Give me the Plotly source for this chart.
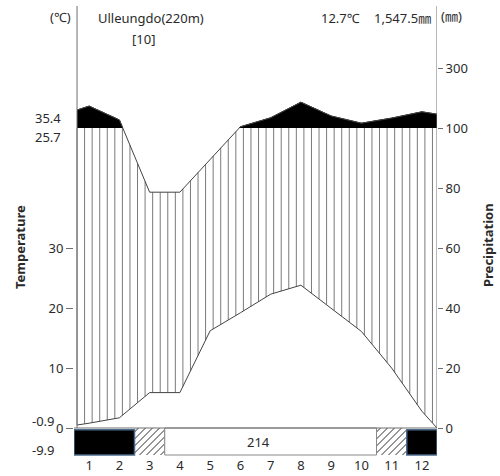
import numpy as np
import plotly.graph_objects as go

# ---------------- data ----------------
months = list(range(1, 13))
month_labels = [str(m) for m in months]
temp_c = [0.8, 1.7, 5.9, 5.9, 16.2, 19.2, 22.3, 23.8, 20.0, 16.1, 10.0, 2.8]
precip_mm = [173, 127, 78.6, 78.6, 89.6, 104, 134, 186, 140, 116, 133, 154]
temp_edges = [0.5, 0.0]        # curve values where it meets the left / right frame
precip_edges = [160, 146]
frost_state = ["frost", "frost", "partial", "free", "free", "free", "free",
               "free", "free", "free", "partial", "frost"]
frost_free_days = "214"
station = "Ulleungdo(220m)"
years = "[10]"
mean_temp = "12.7℃"
annual_precip = "1,547.5㎜"
temp_ticks = [0, 10, 20, 30]
precip_ticks = [0, 20, 40, 60, 80, 100, 300]
extreme_hi = ["35.4", "25.7"]
extreme_lo = ["-0.9", "-9.9"]

# ---------------- scales ----------------
def t_scale(t):
    return 2.0 * np.asarray(t, dtype=float)

def p_scale(p):
    p = np.asarray(p, dtype=float)
    return np.where(p <= 100, p, 100 + (p - 100) / 10.0)

X_L, X_R = 0.6, 12.5
Y_TOP = 422 / 3.0
Y_BOT = Y_TOP - 150
PX_X = 363 / 12.0    # pixels per month
PX_Y = 3.0           # pixels per y unit
cx = np.array([X_L] + months + [X_R], dtype=float)
ty = t_scale([temp_edges[0]] + temp_c + [temp_edges[1]])
py = p_scale([precip_edges[0]] + precip_mm + [precip_edges[1]])

AX = "#6e6e6e"
TXT = "#2a2a2a"
FONT = "Noto Sans, Noto Sans CJK KR, sans-serif"

fig = go.Figure()

# black area (precip above 100)
fig.add_trace(go.Scatter(x=cx, y=py, mode="lines", fill="tozeroy",
                         fillcolor="black", line=dict(color="black", width=1),
                         hoverinfo="skip", showlegend=False))
# white out everything below 100
fig.add_trace(go.Scatter(x=[X_L, X_R, X_R, X_L, X_L], y=[0, 0, 100, 100, 0],
                         mode="lines", fill="toself", fillcolor="white",
                         line=dict(width=0), hoverinfo="skip", showlegend=False))
# vertical hatching (humid period)
hx, hy = [], []
for x in np.arange(X_L, X_R - 0.1, 0.25):
    yt = float(np.interp(x, cx, ty))
    yp = min(float(np.interp(x, cx, py)), 100.0)
    hx += [x, x, None]
    hy += [yt, yp, None]
fig.add_trace(go.Scatter(x=hx, y=hy, mode="lines", line=dict(color="#7a7a7a", width=1),
                         hoverinfo="skip", showlegend=False))
# temperature curve
fig.add_trace(go.Scatter(x=cx, y=ty, mode="lines", line=dict(color="#444", width=1),
                         hoverinfo="skip", showlegend=False))
# precipitation curve (on the right axis, same range)
fig.add_trace(go.Scatter(x=cx, y=py, mode="lines", line=dict(color="#444", width=1),
                         yaxis="y2", hoverinfo="skip", showlegend=False))

# ---------------- frost bar ----------------
BAR_LO, BAR_HI = -9.0, 0.0
shapes = []
groups = []
for m, s in zip(months, frost_state):
    if groups and groups[-1][0] == s and groups[-1][2] == m - 1 and s != "partial":
        groups[-1][2] = m
    else:
        groups.append([s, m, m])
for s, m0, m1 in groups:
    x0, x1 = m0 - 0.5, m1 + 0.5
    if s == "frost":
        shapes.append(dict(type="rect", xref="x", yref="y", x0=x0, x1=x1, y0=BAR_LO, y1=-0.55,
                           fillcolor="black", line=dict(color="#4a6a8c", width=1.5)))
    elif s == "free":
        shapes.append(dict(type="rect", xref="x", yref="y", x0=x0, x1=x1, y0=BAR_LO, y1=BAR_HI,
                           fillcolor="white", line=dict(color="#8a8a8a", width=1)))
        fig.add_annotation(x=(x0 + x1) / 2 - 0.4, y=-4.5, text=frost_free_days, showarrow=False,
                           font=dict(size=13, color=TXT))
    else:
        # diagonal "/" hatching, 45 degrees in pixel space, clipped to the box
        w_px = (x1 - x0) * PX_X
        h_px = (BAR_HI - BAR_LO) * PX_Y
        dx, dy = [], []
        for c in np.arange(-h_px + 4, w_px, 7.0):   # line: px_x - px_y_from_bottom = c
            ax_ = max(c, 0.0); ay_ = ax_ - c
            bx_ = min(w_px, c + h_px); by_ = bx_ - c
            dx += [x0 + ax_ / PX_X, x0 + bx_ / PX_X, None]
            dy += [BAR_LO + ay_ / PX_Y, BAR_LO + by_ / PX_Y, None]
        fig.add_trace(go.Scatter(x=dx, y=dy, mode="lines", line=dict(color="#2e2e2e", width=1),
                                 hoverinfo="skip", showlegend=False))
        shapes.append(dict(type="line", xref="x", yref="y",
                           x0=x1 if m0 < 6 else x0, x1=x1 if m0 < 6 else x0,
                           y0=BAR_LO, y1=BAR_HI, line=dict(color="#8a8a8a", width=1)))

# zero line and frame lines
shapes.append(dict(type="line", xref="x", yref="y", x0=0.5, x1=X_R, y0=0, y1=0,
                   line=dict(color=AX, width=1)))
shapes.append(dict(type="line", xref="x", yref="y", x0=X_L, x1=X_L, y0=0, y1=Y_TOP,
                   line=dict(color=AX, width=1)))
shapes.append(dict(type="line", xref="x", yref="y", x0=X_R, x1=X_R, y0=0, y1=Y_TOP,
                   line=dict(color=AX, width=1)))

fig.update_layout(
    width=500, height=476,
    margin=dict(l=74, r=63, t=6, b=20),
    plot_bgcolor="white", paper_bgcolor="white",
    font=dict(family=FONT, size=13, color=TXT),
    shapes=shapes,
    xaxis=dict(range=[0.5, 12.5], tickvals=months, ticktext=month_labels,
               showgrid=False, zeroline=False, showline=False, ticks="",
               automargin=False, fixedrange=True),
    yaxis=dict(range=[Y_BOT, Y_TOP], tickvals=list(t_scale(temp_ticks)),
               ticktext=[str(t) for t in temp_ticks], ticks="outside", ticklen=7,
               tickcolor=AX, showgrid=False, zeroline=False, showline=False,
               automargin=False),
    yaxis2=dict(range=[Y_BOT, Y_TOP], overlaying="y", side="right",
                tickvals=list(p_scale(precip_ticks)), ticktext=[str(p) for p in precip_ticks],
                ticks="outside", ticklen=5, tickcolor=AX, showgrid=False,
                zeroline=False, showline=False, automargin=False),
)

def ann(x, y, text, xanchor="center", size=13, bold=False, angle=0):
    fig.add_annotation(xref="paper", yref="paper", x=(x - 74) / 363.0, y=(456 - y) / 450.0,
                       text=("<b>%s</b>" % text) if bold else text, showarrow=False,
                       xanchor=xanchor, yanchor="middle", textangle=angle,
                       font=dict(size=size, color=TXT))

ann(60, 17, "(℃)")
ann(151, 18, station)
ann(143, 39, years)
ann(340, 18, mean_temp)
ann(402, 18, annual_precip)
ann(451, 16, "(㎜)")
ann(63, 118, extreme_hi[0], xanchor="right")
ann(63, 137, extreme_hi[1], xanchor="right")
ann(57, 421, extreme_lo[0], xanchor="right")
ann(57, 450, extreme_lo[1], xanchor="right")
ann(20, 247, "Temperature", bold=True, angle=-90)
ann(488, 245, "Precipitation", bold=True, angle=-90)

fig.write_html("out.html", config={"displayModeBar": False, "staticPlot": True},
               post_script="document.body.style.margin='0';document.body.style.overflow='hidden';")
